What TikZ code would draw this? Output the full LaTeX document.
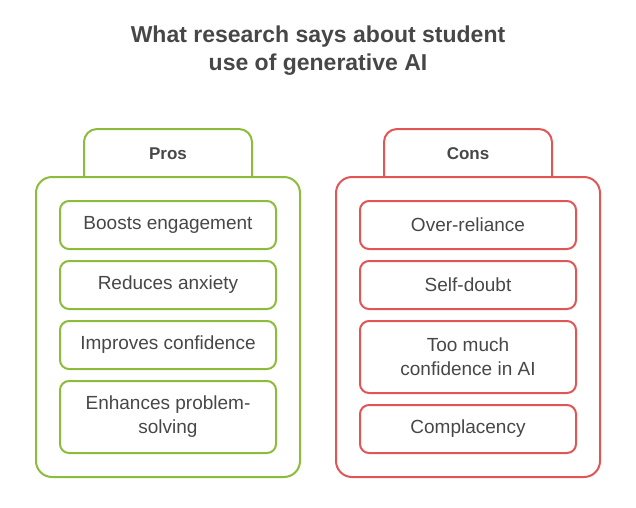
\documentclass[tikz,border=0pt]{standalone}
\usepackage{fontspec}
\setmainfont{Liberation Sans}
\definecolor{txt}{HTML}{474747}
\definecolor{pgreen}{HTML}{8DBB3B}
\definecolor{cred}{HTML}{E05555}
\begin{document}
\begin{tikzpicture}[x=1pt,y=-1pt,
  outerbox/.style={draw, line width=2pt, rounded corners=16pt, minimum width=264pt, minimum height=300pt, inner sep=0pt},
  itembox/.style={draw, line width=2pt, rounded corners=9pt, minimum width=216pt, inner sep=0pt, align=center, text=txt, font=\fontsize{19}{24}\selectfont},
  tablabel/.style={text=txt, font=\fontsize{17}{20}\selectfont\bfseries},
  tabline/.style={line width=2pt, rounded corners=13pt}
]
\useasboundingbox (0,0) rectangle (636,507);
\node[text=txt, font=\fontsize{23}{28}\selectfont\bfseries, align=center] (title) at (318,51) {What research says about student\\use of generative AI};

% Pros
\node[outerbox, draw=pgreen] (prosbox) at (168,327) {};
\draw[tabline, draw=pgreen] (prosbox.north -| 84,0) -- (84,129) -- (252,129) -- (prosbox.north -| 252,0);
\node[tablabel] (pros) at (168,154) {Pros};
\node[itembox, draw=pgreen, minimum height=48pt] (p1) at (168,225) {Boosts engagement};
\node[itembox, draw=pgreen, minimum height=48pt] (p2) at (168,285) {Reduces anxiety};
\node[itembox, draw=pgreen, minimum height=48pt] (p3) at (168,345) {Improves confidence};
\node[itembox, draw=pgreen, minimum height=72pt] (p4) at (168,417) {Enhances problem-\\solving};

% Cons
\node[outerbox, draw=cred] (consbox) at (468,327) {};
\draw[tabline, draw=cred] (consbox.north -| 384,0) -- (384,129) -- (552,129) -- (consbox.north -| 552,0);
\node[tablabel] (cons) at (468,154) {Cons};
\node[itembox, draw=cred, minimum height=48pt] (c1) at (468,225) {Over-reliance};
\node[itembox, draw=cred, minimum height=48pt] (c2) at (468,285) {Self-doubt};
\node[itembox, draw=cred, minimum height=72pt] (c3) at (468,357) {Too much\\confidence in AI};
\node[itembox, draw=cred, minimum height=48pt] (c4) at (468,429) {Complacency};
\end{tikzpicture}
\end{document}
